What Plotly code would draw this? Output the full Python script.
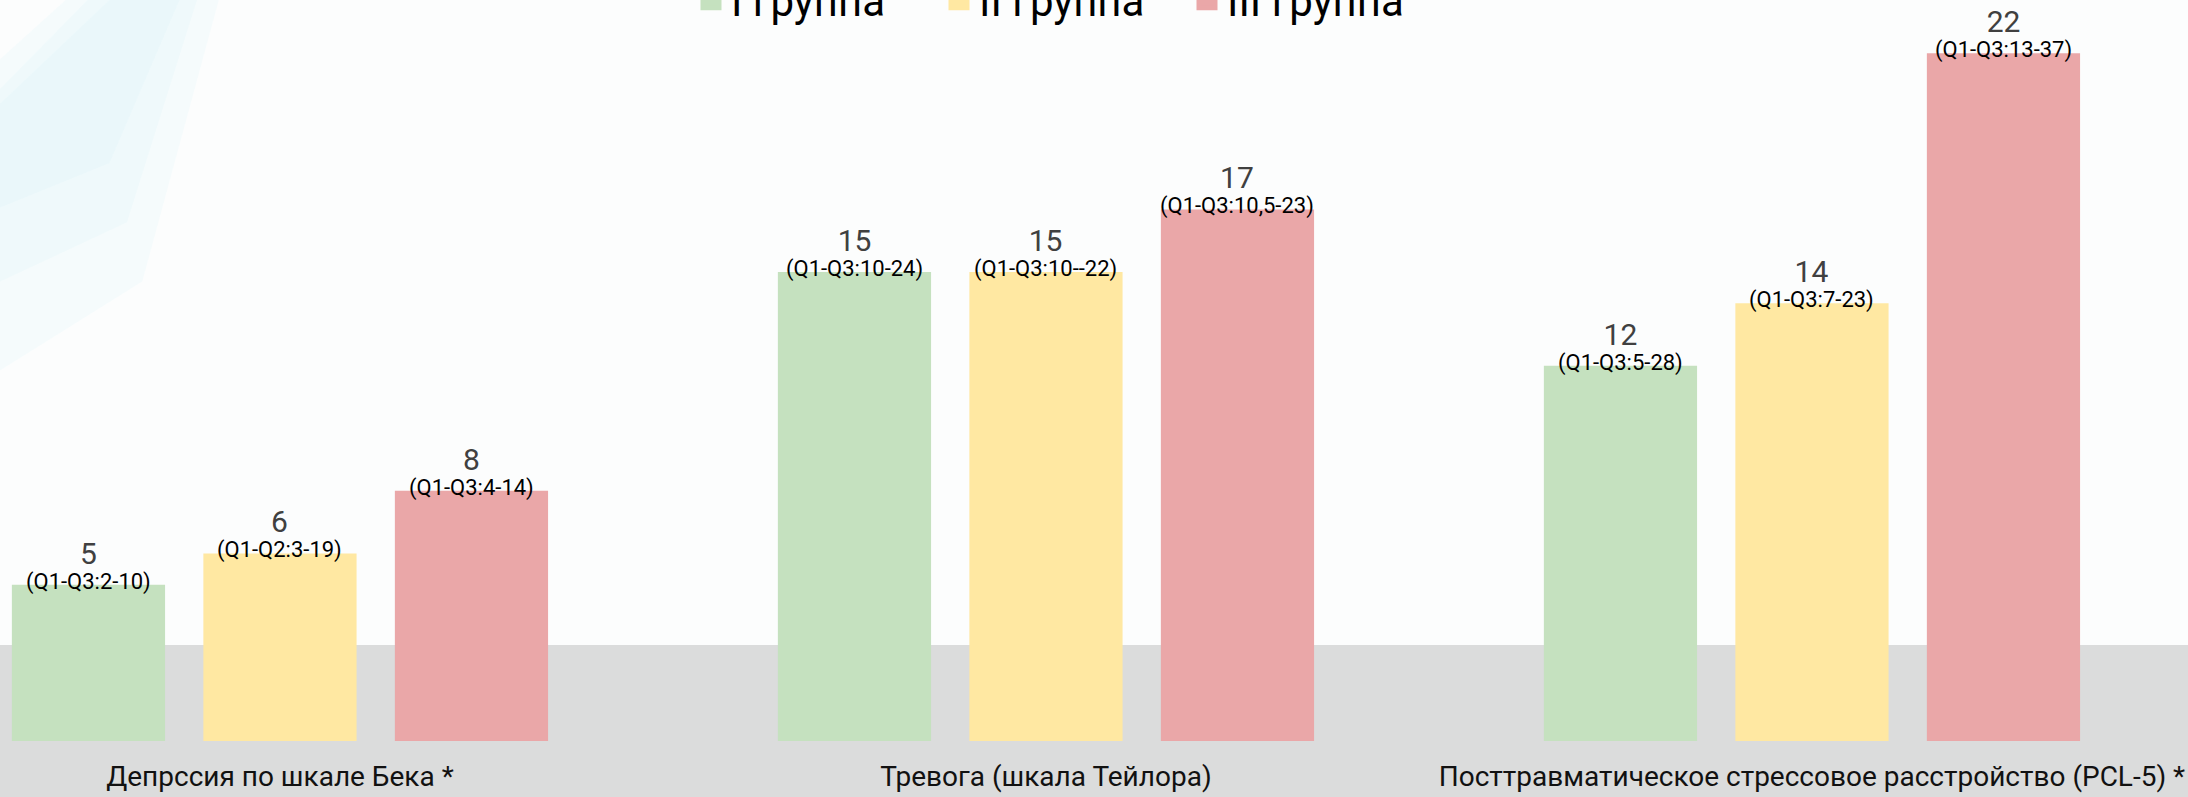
import plotly.graph_objects as go

categories = ["Депрссия по шкале Бека *", "Тревога (шкала Тейлора)",
              "Посттравматическое стрессовое расстройство (PCL-5) *"]
groups = ["I группа", "II группа", "III группа"]
colors = ["#C5E1BF", "#FFE8A2", "#EAA7A8"]

g1_values = [5, 15, 12]
g2_values = [6, 15, 14]
g3_values = [8, 17, 22]
values = [g1_values, g2_values, g3_values]

g1_iqr = ["(Q1-Q3:2-10)", "(Q1-Q3:10-24)", "(Q1-Q3:5-28)"]
g2_iqr = ["(Q1-Q2:3-19)", "(Q1-Q3:10--22)", "(Q1-Q3:7-23)"]
g3_iqr = ["(Q1-Q3:4-14)", "(Q1-Q3:10,5-23)", "(Q1-Q3:13-37)"]
iqrs = [g1_iqr, g2_iqr, g3_iqr]

FONT = "Roboto"
BARGAP = 0.25
BARGROUPGAP = 0.2

fig = go.Figure()
annotations = []
n_groups = len(groups)
slot = (1 - BARGAP) / n_groups
for j, (name, col, vals, iq) in enumerate(zip(groups, colors, values, iqrs)):
    fig.add_trace(go.Bar(
        x=categories, y=vals, name=name, marker=dict(color=col, line=dict(width=0)),
        showlegend=False, hoverinfo="x+y+name",
    ))
    fig.add_trace(go.Scatter(
        x=[None], y=[None], mode="markers", name=name,
        marker=dict(symbol="square", size=30, color=col, line=dict(width=5, color=col)),
        showlegend=True,
    ))
    offset = (j - (n_groups - 1) / 2) * slot
    for i, (v, q) in enumerate(zip(vals, iq)):
        annotations.append(dict(
            x=i + offset, y=v, xref="x", yref="y",
            text=(f"<span style='font-size:30px;color:#404040'>{v}</span><br>"
                  f"<span style='font-size:22px'>{q}</span>"),
            showarrow=False, yanchor="bottom", yshift=-12,
            font=dict(family=FONT, size=19, color="#000000")))

# soft decorative highlight in the top-left corner of the slide background
glow = [
    "M 0.030 1 L 0.100 1 L 0.065 0.62 L 0 0.50 L 0 0.92 Z",
    "M 0.040 1 L 0.090 1 L 0.058 0.70 L 0 0.62 L 0 0.88 Z",
    "M 0.050 1 L 0.082 1 L 0.050 0.78 L 0 0.72 L 0 0.86 Z",
]
shapes = [
    dict(type="rect", xref="paper", yref="paper", x0=-0.01, x1=1.01,
         y0=-0.08, y1=(741 - 645) / 741, fillcolor="#DBDCDC",
         line=dict(width=0), layer="below"),
]
for p in glow:
    shapes.append(dict(type="path", xref="paper", yref="paper", path=p,
                       fillcolor="rgba(205,238,247,0.14)", line=dict(width=0),
                       layer="below"))

fig.update_layout(
    width=2188, height=797,
    margin=dict(l=0, r=0, t=0, b=56, autoexpand=False),
    paper_bgcolor="#FCFDFD", plot_bgcolor="rgba(0,0,0,0)",
    barmode="group", bargap=BARGAP, bargroupgap=BARGROUPGAP,
    font=dict(family=FONT, color="#000000"),
    xaxis=dict(type="category", range=[-0.3655, 2.4909], showgrid=False,
               zeroline=False, showline=False, ticks="", ticklabelstandoff=16,
               tickfont=dict(family=FONT, size=28, color="#111111")),
    yaxis=dict(range=[0, 23.70], visible=False),
    legend=dict(orientation="h", x=691 / 2188, xanchor="left", y=1.0, yanchor="middle",
                entrywidth=203, entrywidthmode="pixels",
                font=dict(family=FONT, size=42, color="#000000"),
                bgcolor="rgba(0,0,0,0)"),
    annotations=annotations,
    shapes=shapes,
)

fig.write_html("out.html", config={"displayModeBar": False},
               post_script="document.body.style.margin='0px';")
